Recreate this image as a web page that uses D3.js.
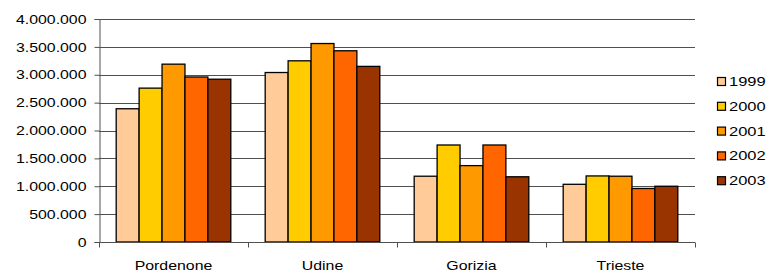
<!DOCTYPE html>
<html>
<head>
<meta charset="utf-8">
<script src="https://cdn.jsdelivr.net/npm/d3@7"></script>
<style>
  body { margin: 0; background: #fff; }
  svg { display: block; font-family: "Liberation Sans", Arial, sans-serif; }
</style>
</head>
<body>
<svg width="772" height="272"></svg>
<script>
// data
const cities = ["Pordenone", "Udine", "Gorizia", "Trieste"];
const years = ["1999", "2000", "2001", "2002", "2003"];
const colors = ["#FFCC99", "#FFCC00", "#FF9900", "#FF6600", "#993300"];
const v1999 = [2390000, 3040000, 1180000, 1035000];
const v2000 = [2760000, 3250000, 1740000, 1185000];
const v2001 = [3190000, 3560000, 1370000, 1180000];
const v2002 = [2960000, 3430000, 1740000, 960000];
const v2003 = [2920000, 3150000, 1170000, 1000000];
const yTicks = [0, 500000, 1000000, 1500000, 2000000, 2500000, 3000000, 3500000, 4000000];

const series = [v1999, v2000, v2001, v2002, v2003];

const svg = d3.select("svg"),
    plotL = 99, plotR = 695, plotT = 19, plotB = 242;

const x0 = d3.scaleBand().domain(cities).range([plotL, plotR]);
// gap width 150% -> outer padding
const x1 = d3.scaleBand().domain(years)
    .range([0, x0.bandwidth()])
    .paddingInner(0).paddingOuter(0.75);
const y = d3.scaleLinear().domain([0, 4000000]).range([plotB, plotT]);

const fmt = d => d3.format(",")(d).replace(/,/g, ".");

// the original text is a bit wider than Arial, stretch it
function stretch(sel) {
    sel.each(function() {
        const w = this.getComputedTextLength();
        d3.select(this).attr("textLength", w * 1.22).attr("lengthAdjust", "spacingAndGlyphs");
    });
}

// gridlines
svg.append("g")
    .selectAll("line")
    .data(yTicks.slice(1))
    .join("line")
    .attr("x1", plotL).attr("x2", plotR)
    .attr("y1", d => Math.round(y(d)) + 0.5).attr("y2", d => Math.round(y(d)) + 0.5)
    .attr("stroke", "#505050").attr("stroke-width", 1);

// bars
const groups = svg.append("g")
    .selectAll("g")
    .data(cities)
    .join("g")
    .attr("transform", d => "translate(" + x0(d) + ",0)");

groups.selectAll("rect")
    .data((c, i) => years.map((yr, j) => ({ yr: yr, v: series[j][i], c: colors[j] })))
    .join("rect")
    .attr("x", d => x1(d.yr))
    .attr("y", d => y(d.v))
    .attr("width", x1.bandwidth())
    .attr("height", d => plotB - y(d.v))
    .attr("fill", d => d.c)
    .attr("stroke", "#000")
    .attr("stroke-width", 1.3);

// y axis
const yAxis = d3.axisLeft(y).tickValues(yTicks).tickFormat(fmt).tickSize(5).tickPadding(8);
const gy = svg.append("g")
    .attr("transform", "translate(" + (plotL + 0.5) + ",0)")
    .call(yAxis);
gy.select(".domain").attr("stroke", "#505050");
gy.selectAll(".tick line").attr("stroke", "#505050");
gy.selectAll(".tick text").attr("font-size", 13).attr("fill", "#000").call(stretch);

// x axis with ticks between categories
const gx = svg.append("g")
    .attr("transform", "translate(0," + (plotB + 0.5) + ")");
gx.append("line").attr("x1", plotL).attr("x2", plotR).attr("stroke", "#505050");
gx.selectAll(".sep")
    .data(cities.map(c => x0(c)).concat([plotR]))
    .join("line")
    .attr("class", "sep")
    .attr("x1", d => Math.round(d) + 0.5).attr("x2", d => Math.round(d) + 0.5)
    .attr("y1", 0).attr("y2", 5)
    .attr("stroke", "#505050");
gx.selectAll("text")
    .data(cities)
    .join("text")
    .attr("x", d => x0(d) + x0.bandwidth() / 2)
    .attr("y", 27.5)
    .attr("text-anchor", "middle")
    .attr("font-size", 13)
    .text(d => d)
    .call(stretch);

// legend
const legend = svg.append("g").attr("transform", "translate(717,77)");
const items = legend.selectAll("g")
    .data(years)
    .join("g")
    .attr("transform", (d, i) => "translate(0," + (i * 24.8) + ")");
items.append("rect")
    .attr("x", 0.5).attr("y", 0.5)
    .attr("width", 8).attr("height", 8)
    .attr("fill", (d, i) => colors[i])
    .attr("stroke", "#000").attr("stroke-width", 1.2);
items.append("text")
    .attr("x", 12).attr("y", 9)
    .attr("font-size", 13.5)
    .text(d => d)
    .call(stretch);
</script>
</body>
</html>
